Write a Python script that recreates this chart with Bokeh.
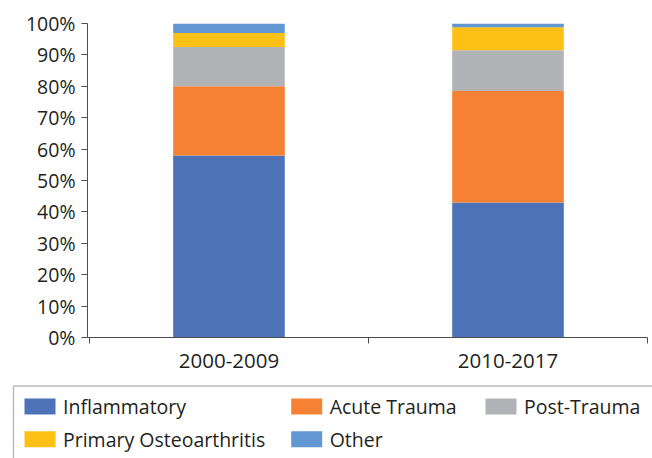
from bokeh.plotting import figure
from bokeh.models import (ColumnDataSource, FixedTicker, NumeralTickFormatter,
                          Range1d, BoxAnnotation)
from bokeh.layouts import column
from bokeh.core.properties import value
from bokeh.embed import file_html
from bokeh.resources import INLINE

# ---------------- data ----------------
periods = ["2000-2009", "2010-2017"]
inflammatory = [58, 43]
acute_trauma = [22, 35.5]
post_trauma = [12.5, 13]
primary_oa = [4.5, 7.3]
other = [3, 1.2]

series_names = ["Inflammatory", "Acute Trauma", "Post-Trauma",
                "Primary Osteoarthritis", "Other"]
series_vals = [inflammatory, acute_trauma, post_trauma, primary_oa, other]
y_ticks = [0, 10, 20, 30, 40, 50, 60, 70, 80, 90, 100]

# ---------------- style ----------------
colors = ["#4E72B8", "#F58234", "#B2B3B7", "#FDC014", "#6198D2"]
FONT = "Open Sans"
TXT = "#231F20"
AXC = "#4D4D4D"

xs = [i + 0.5 for i in range(len(periods))]
data = {"x": xs}
keys = []
for i, vals in enumerate(series_vals):
    k = f"s{i}"
    keys.append(k)
    data[k] = [v / 100 for v in vals]
source = ColumnDataSource(data)

p = figure(width=652, height=380, output_backend="svg", toolbar_location=None,
           x_range=Range1d(-0.007, len(periods)), y_range=Range1d(0, 1),
           min_border_left=87, min_border_right=5, min_border_top=23,
           min_border_bottom=43)
p.frame_align = False
p.outline_line_color = None
p.xgrid.visible = False
p.ygrid.visible = False

p.vbar_stack(keys, x="x", width=0.4, color=colors, source=source, line_color=None)

# y axis
p.yaxis.ticker = FixedTicker(ticks=[t / 100 for t in y_ticks])
p.yaxis.formatter = NumeralTickFormatter(format="0%")
p.yaxis.major_tick_out = 6
p.yaxis.major_tick_in = 0
p.yaxis.minor_tick_out = 0
p.yaxis.minor_tick_in = 0
p.yaxis.axis_line_color = AXC
p.yaxis.major_tick_line_color = AXC
p.yaxis.major_label_text_font = FONT
p.yaxis.major_label_text_font_size = "19.5px"
p.yaxis.major_label_text_color = TXT
p.yaxis.major_label_standoff = 6

# x axis: labels at centers, ticks at category boundaries
p.xaxis.ticker = FixedTicker(ticks=xs, minor_ticks=list(range(len(periods) + 1)))
p.xaxis.major_label_overrides = {x: lab for x, lab in zip(xs, periods)}
p.xaxis.major_tick_out = 0
p.xaxis.major_tick_in = 0
p.xaxis.minor_tick_out = 6
p.xaxis.minor_tick_in = 0
p.xaxis.axis_line_color = AXC
p.xaxis.minor_tick_line_color = AXC
p.xaxis.major_label_text_font = FONT
p.xaxis.major_label_text_font_size = "20.5px"
p.xaxis.major_label_text_color = TXT
p.xaxis.major_label_standoff = 10

# ---------------- legend panel ----------------
LW, LH = 652, 78
lg = figure(width=LW, height=LH, output_backend="svg", toolbar_location=None,
            x_range=Range1d(0, LW), y_range=Range1d(LH, 0),
            min_border=0, x_axis_location=None, y_axis_location=None)
lg.frame_align = False
lg.outline_line_color = None
lg.xgrid.visible = False
lg.ygrid.visible = False

col_left = [24, 290.7, 485]
row_mid = [26, 58.7]
sw_w, sw_h, txt_gap = 31, 16, 38.5
item_col = [0, 1, 2, 0, 1]
item_row = [0, 0, 0, 1, 1]

leg_src = ColumnDataSource(dict(
    sx=[col_left[c] + sw_w / 2 for c in item_col],
    tx=[col_left[c] + txt_gap for c in item_col],
    y=[row_mid[r] for r in item_row],
    label=series_names,
    color=colors,
))
lg.rect(x="sx", y="y", width=sw_w, height=sw_h, fill_color="color",
        line_color=None, source=leg_src)
lg.text(x="tx", y="y", text="label", source=leg_src,
        text_font=value(FONT), text_font_size="19.5px", text_color=TXT,
        text_baseline="middle", text_align="left")
lg.add_layout(BoxAnnotation(left=13, right=LW + 20, top=5.5, bottom=LH + 20,
                            fill_alpha=0, line_color=TXT, line_width=1.5))

layout = column(p, lg, spacing=0)
open("out.html", "w").write(file_html(layout, INLINE))
